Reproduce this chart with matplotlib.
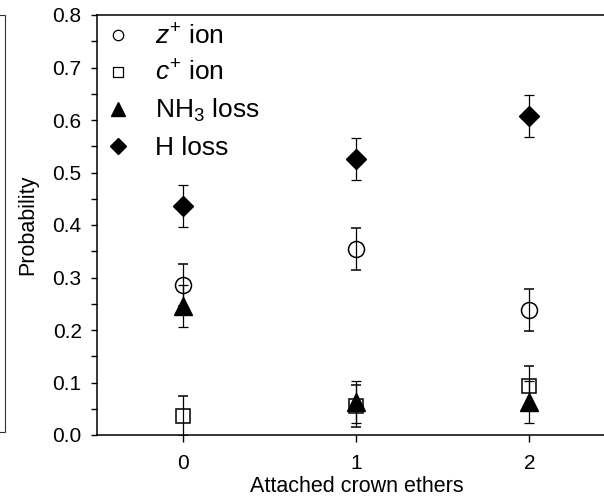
import matplotlib
matplotlib.use("Agg")
import matplotlib.pyplot as plt
from matplotlib.lines import Line2D
from matplotlib.patches import Rectangle

plt.rcParams["font.family"] = ["Liberation Sans", "DejaVu Sans"]
plt.rcParams["mathtext.fontset"] = "custom"
plt.rcParams["mathtext.rm"] = "Liberation Sans"
plt.rcParams["mathtext.it"] = "Liberation Sans:italic"

# data
crown_ethers = [0, 1, 2]
z_ion = [0.286, 0.354, 0.239]
z_err = [0.040, 0.040, 0.040]
c_ion = [0.036, 0.056, 0.094]
c_err = [0.038, 0.040, 0.038]
nh3_loss = [0.245, 0.063, 0.062]
nh3_err = [0.040, 0.040, 0.040]
h_loss = [0.436, 0.526, 0.607]
h_err = [0.040, 0.040, 0.040]

labels = [r"$\mathit{z}^{+}$ ion", r"$\mathit{c}^{+}$ ion", r"NH$_3$ loss", "H loss"]

W, H = 604, 499
fig = plt.figure(figsize=(W / 100, H / 100), dpi=100)
ax = fig.add_axes([97 / W, 64 / H, 519 / W, 420 / H])

eb = dict(ecolor="black", elinewidth=0.9, capsize=3.6, capthick=0.9, ls="none")
ax.errorbar(crown_ethers, h_loss, yerr=h_err, marker="D", ms=10.2,
            mfc="black", mec="black", **eb)
ax.errorbar(crown_ethers, nh3_loss, yerr=nh3_err, marker="^", ms=13,
            mfc="black", mec="black", **eb)
ax.errorbar(crown_ethers, z_ion, yerr=z_err, marker="o", ms=11.5,
            mfc="none", mec="black", mew=1.1, **eb)
ax.errorbar(crown_ethers, c_ion, yerr=c_err, marker="s", ms=10,
            mfc="none", mec="black", mew=1.1, **eb)

ax.set_xlim(-0.5, 2.5)
ax.set_ylim(0, 0.8)
ax.set_xticks(crown_ethers)
ax.set_yticks([i / 10 for i in range(9)])
ax.set_yticks([i / 20 for i in range(1, 16, 2)], minor=True)
ax.tick_params(axis="both", direction="out", length=4, width=1.0,
               labelsize=15, pad=7)
ax.tick_params(axis="y", which="minor", direction="out", length=4, width=1.0)
ax.tick_params(axis="x", length=5, pad=9)
for side in ["left", "bottom", "top"]:
    ax.spines[side].set_linewidth(1.1)
ax.spines["right"].set_visible(False)

ax.set_xlabel("Attached crown ethers", fontsize=15.5, labelpad=2)
ax.set_ylabel("Probability", fontsize=15.5, labelpad=10)

handles = [
    Line2D([], [], ls="none", marker="o", ms=7.5, mfc="none", mec="black", mew=0.9),
    Line2D([], [], ls="none", marker="s", ms=7.5, mfc="none", mec="black", mew=0.9),
    Line2D([], [], ls="none", marker="^", ms=10.5, mfc="black", mec="black"),
    Line2D([], [], ls="none", marker="D", ms=8, mfc="black", mec="black"),
]
ax.legend(handles, labels, loc="upper left", bbox_to_anchor=(106 / W, 1 - 24 / H),
          bbox_transform=fig.transFigure, frameon=False, fontsize=19,
          handlelength=0.9, handletextpad=0.95, labelspacing=0.43, borderpad=0,
          borderaxespad=0)

# edge of the neighbouring panel
fig.patches.append(Rectangle((-0.05, 67 / H), 0.05 + 5 / W, 417 / H,
                             transform=fig.transFigure, fill=False,
                             edgecolor="#333333", linewidth=0.8))

fig.savefig("out.png", dpi=100)
